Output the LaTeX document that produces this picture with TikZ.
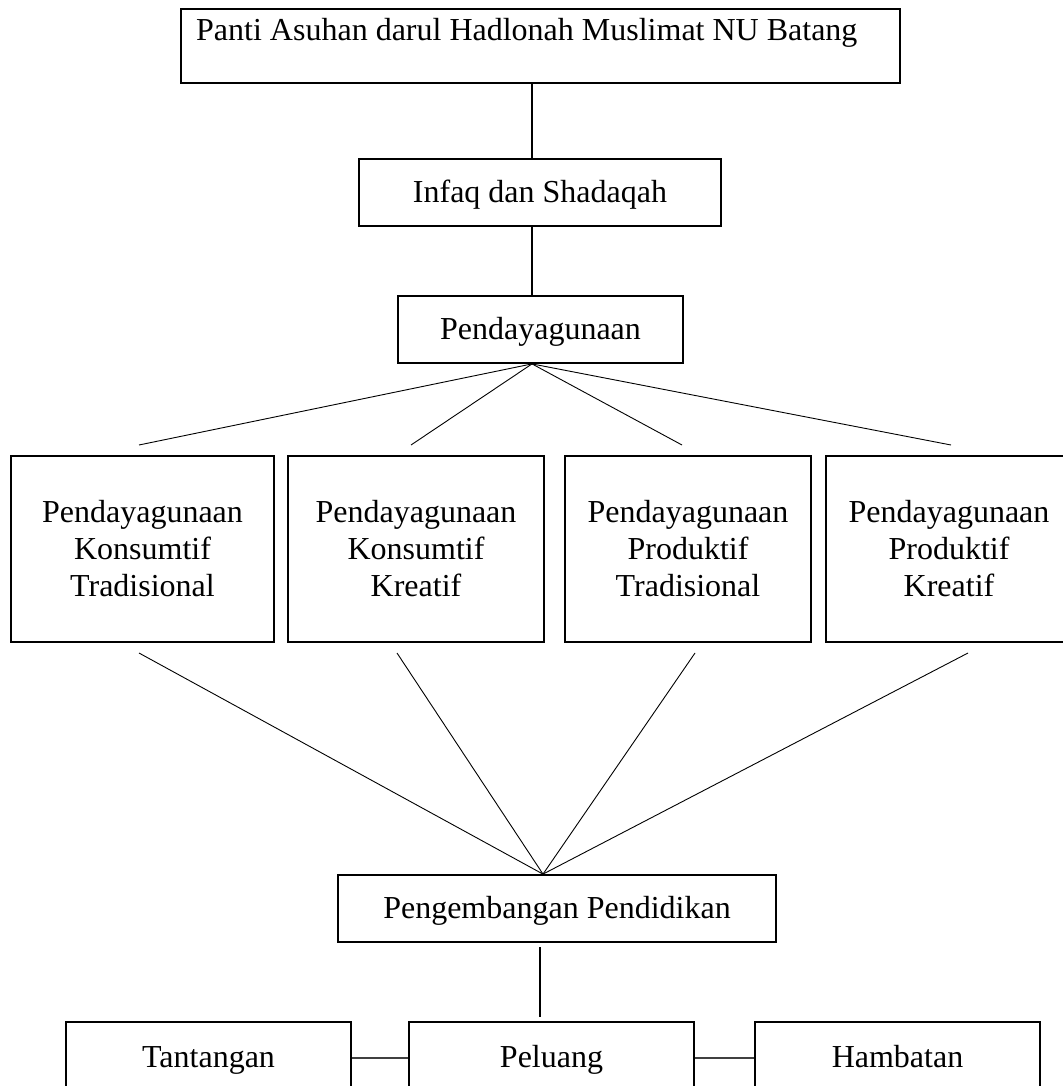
\documentclass[tikz,border=0pt]{standalone}
\usepackage{fontspec}
\setmainfont{Liberation Serif}
\begin{document}
\begin{tikzpicture}[x=1pt,y=-1pt,
  box/.style={draw=black, line width=1.8pt, inner sep=0pt, align=center,
    font=\fontsize{32}{37}\selectfont},
  onebox/.style={box, text height=24pt, text depth=5pt},
  txt/.style={inner sep=0pt, font=\fontsize{32}{37}\selectfont},
  thick line/.style={line width=1.8pt},
  thin line/.style={line width=0.9pt},
  side line/.style={line width=1.3pt, draw=black!75}]
\useasboundingbox (0,0) rectangle (1062,1086);
% top
\node[box, minimum width=719pt, minimum height=74pt] (top) at (540.5,46) {};
\node[txt, anchor=base west] (toptext) at (196,41) {Panti Asuhan darul Hadlonah Muslimat NU Batang};
\node[onebox, minimum width=362pt, minimum height=67pt] (infaq) at (540,192.5) {Infaq dan Shadaqah};
\node[onebox, minimum width=285pt, minimum height=67pt] (pend) at (540.5,329.5) {Pendayagunaan};
% middle
\node[box, minimum width=263pt, minimum height=186pt] (b1) at (142.5,549) {Pendayagunaan\\Konsumtif\\Tradisional};
\node[box, minimum width=256pt, minimum height=186pt] (b2) at (416,549) {Pendayagunaan\\Konsumtif\\Kreatif};
\node[box, minimum width=246pt, minimum height=186pt] (b3) at (688,549) {Pendayagunaan\\Produktif\\Tradisional};
\node[box, minimum width=246pt, minimum height=186pt] (b4) at (949,549) {Pendayagunaan\\Produktif\\Kreatif};
% lower
\node[onebox, minimum width=438pt, minimum height=67pt] (peng) at (557,908.5) {Pengembangan Pendidikan};
\node[onebox, minimum width=285pt, minimum height=72pt] (tant) at (208.5,1058) {Tantangan};
\node[onebox, minimum width=285pt, minimum height=72pt] (pel) at (551.5,1058) {Peluang};
\node[onebox, minimum width=285pt, minimum height=72pt] (hamb) at (897.5,1058) {Hambatan};
% coordinates
\coordinate (f1) at (139,445);
\coordinate (f2) at (411,445);
\coordinate (f3) at (682,445);
\coordinate (f4) at (951,445);
\coordinate (g1) at (139,653);
\coordinate (g2) at (397,653);
\coordinate (g3) at (695,653);
\coordinate (g4) at (968,653);
\coordinate (v1) at (540,947);
\coordinate (v2) at (540,1017);
% connectors
\draw[thick line] (top.south -| 532,0) -- (infaq.north -| 532,0);
\draw[thick line] (infaq.south -| 532,0) -- (pend.north -| 532,0);
\foreach \f in {f1,f2,f3,f4} \draw[thin line] (pend.south -| 532,0) -- (\f);
\foreach \g in {g1,g2,g3,g4} \draw[thin line] (\g) -- (peng.north -| 543,0);
\draw[thick line] (v1) -- (v2);
\draw[side line] (tant.east) -- (pel.west);
\draw[side line] (pel.east) -- (hamb.west);
\end{tikzpicture}
\end{document}
